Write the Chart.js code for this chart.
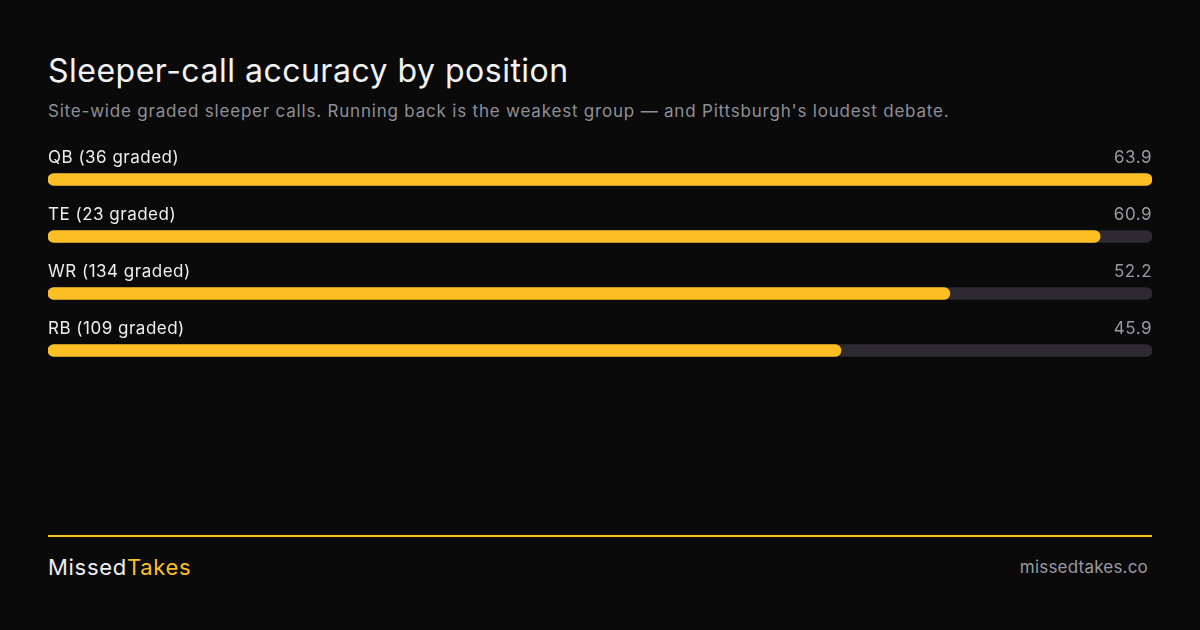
<!DOCTYPE html>
<html>
<head>
<meta charset="utf-8">
<script src="https://cdn.jsdelivr.net/npm/chart.js@4"></script>
<style>
	html, body { margin: 0; padding: 0; background: #0a0a0a; }
	body { width: 1200px; height: 630px; position: relative; overflow: hidden; font-family: Inter, "Noto Sans", sans-serif; }
	#title { position: absolute; left: 48px; top: 51px; font-size: 32px; color: #f2f2f2; font-weight: 400; letter-spacing: 0.5px; }
	#subtitle { position: absolute; left: 48px; top: 101px; font-size: 17px; color: #8f8f96; letter-spacing: 0.8px; }
	#chartBox { position: absolute; left: 48px; top: 140px; width: 1104px; height: 240px; }
	#rule { position: absolute; left: 48px; top: 535px; width: 1104px; height: 2px; background: #fbbf24; }
	#brand { position: absolute; left: 48px; top: 554px; font-size: 22px; color: #eeeeee; letter-spacing: 0.7px; }
	#brand span { color: #fbbf24; }
	#site { position: absolute; right: 52px; top: 557px; font-size: 17px; color: #9a9aa0; letter-spacing: 0.2px; }
</style>
</head>
<body>
<div id="title">Sleeper-call accuracy by position</div>
<div id="subtitle">Site-wide graded sleeper calls. Running back is the weakest group — and Pittsburgh's loudest debate.</div>
<div id="chartBox"><canvas id="chartContainer"></canvas></div>
<div id="rule"></div>
<div id="brand">Missed<span>Takes</span></div>
<div id="site">missedtakes.co</div>

<script>
const positions = ["QB (36 graded)", "TE (23 graded)", "WR (134 graded)", "RB (109 graded)"];
const accuracy = [63.9, 60.9, 52.2, 45.9];

const maxValue = Math.max(...accuracy);

// draws the row label above each bar and the value on the right
const rowLabels = {
	id: "rowLabels",
	afterDatasetsDraw(chart) {
		const ctx = chart.ctx;
		const area = chart.chartArea;
		const yScale = chart.scales.y;
		ctx.save();
		ctx.font = "17px Inter, 'Noto Sans', sans-serif";
		ctx.letterSpacing = "0.5px";
		ctx.textBaseline = "middle";
		positions.forEach((label, i) => {
			const y = yScale.getPixelForValue(i) - 22;
			ctx.fillStyle = "#ededed";
			ctx.textAlign = "left";
			ctx.fillText(label, area.left, y);
			ctx.fillStyle = "#9a9aa0";
			ctx.textAlign = "right";
			ctx.fillText(accuracy[i].toFixed(1), area.right, y);
		});
		ctx.restore();
	},
};

new Chart(document.getElementById("chartContainer"), {
	type: "bar",
	data: {
		labels: positions,
		datasets: [
			{
				data: accuracy,
				backgroundColor: "#fbbf24",
				barThickness: 12,
				borderRadius: 6,
				borderSkipped: false,
				grouped: false,
			},
			{
				data: positions.map(() => maxValue),
				backgroundColor: "#2d2a33",
				barThickness: 12,
				borderRadius: 6,
				borderSkipped: false,
				grouped: false,
			},
		],
	},
	options: {
		indexAxis: "y",
		responsive: true,
		maintainAspectRatio: false,
		animation: false,
		layout: { padding: { top: 11, bottom: 1, left: 0, right: 0 } },
		plugins: { legend: { display: false }, tooltip: { enabled: false } },
		scales: {
			x: { display: false, min: 0, max: maxValue },
			y: { display: false },
		},
	},
	plugins: [rowLabels],
});
</script>
</body>
</html>
